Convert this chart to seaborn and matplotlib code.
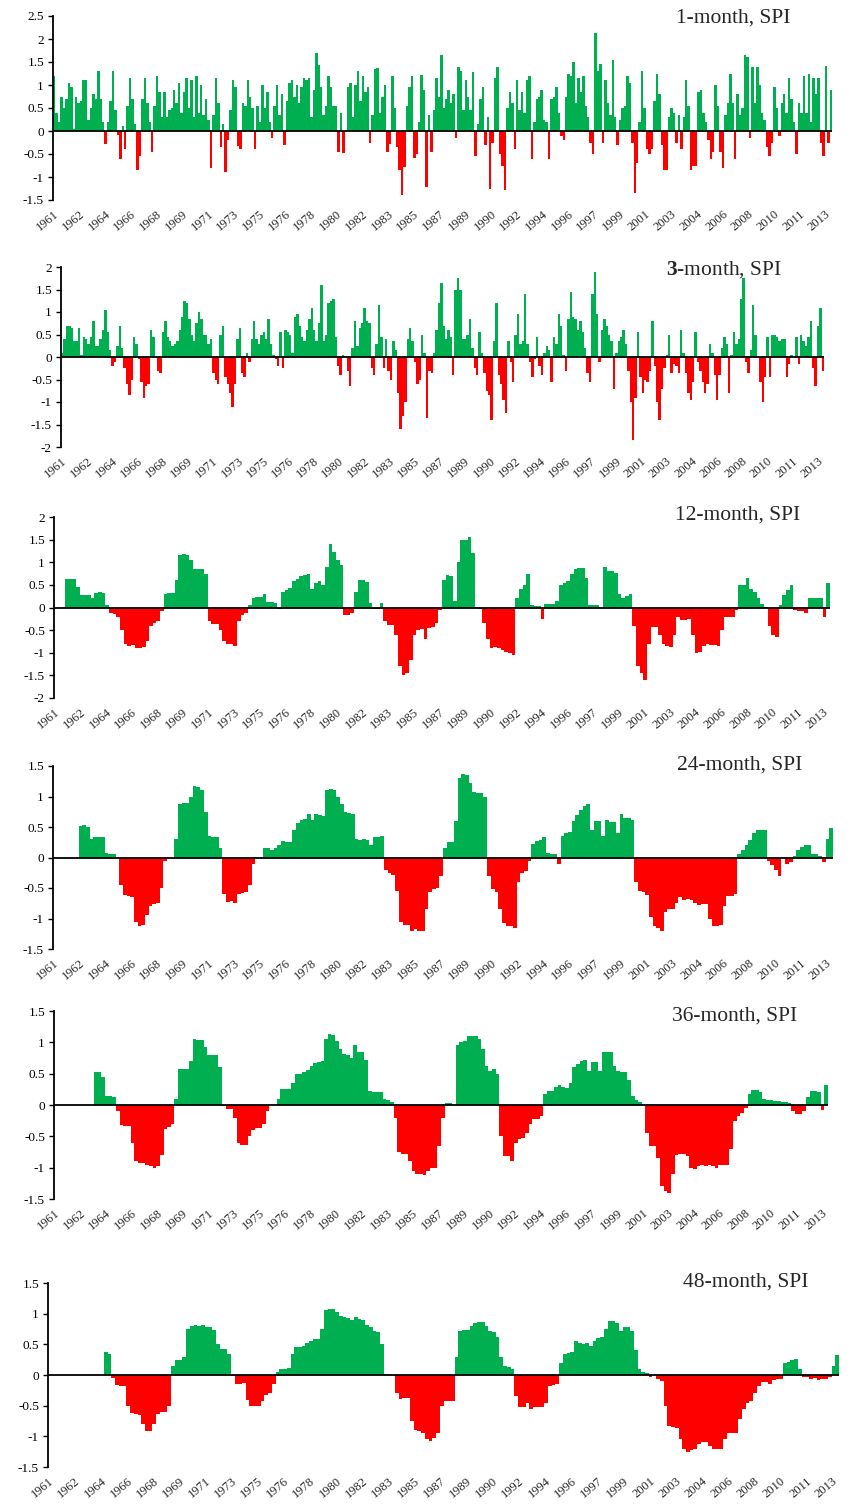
import numpy as np
import pandas as pd
import matplotlib
matplotlib.use('Agg')
import matplotlib.pyplot as plt
from matplotlib.ticker import FuncFormatter
import seaborn as sns

nan = np.nan

# Excel printed a year label every 21st month, starting Jan 1961
YEAR_LABELS = ['1961', '1962', '1964', '1966', '1968', '1969', '1971', '1973',
               '1975', '1976', '1978', '1980', '1982', '1983', '1985', '1987',
               '1989', '1990', '1992', '1994', '1996', '1997', '1999', '2001',
               '2003', '2004', '2006', '2008', '2010', '2011', '2013']

SPI_1 = [
    1.2, 0.4, 0.2, 0.75, 0.5, 0.7,
    1.05, 0.95, 0.05, 0.75, 0.6, 0.65,
    1.1, 1.1, 0.25, 0.5, 0.8, 0.7,
    1.3, 0.7, 0.2, -0.28, 0.2, 0.65,
    1.3, 0.45, -0.08, -0.6, 0.1, -0.4,
    0.55, 1.15, 0.7, 0.15, -0.85, -0.55,
    0.7, 1.15, 0.6, 0.2, -0.45, 0.55,
    1.2, 0.85, 0.3, 0.85, 0.3, 0.45,
    0.5, 0.9, 0.6, 1.05, 0.4, 0.85,
    1.15, 0.5, 1.1, 0.3, 1.2, 0.4,
    1.0, 0.35, 0.7, 0.25, -0.8, 0.35,
    1.15, 0.6, -0.35, 0.15, -0.9, -0.2,
    0.45, 1.1, 0.95, -0.33, -0.4, 0.6,
    0.55, 1.1, 0.75, 0.5, -0.4, 0.55,
    0.2, 1.0, 0.5, 0.85, 0.2, -0.15,
    0.55, 1.0, 0.35, 0.8, -0.3, 0.65,
    1.05, 1.1, 0.75, 1.0, 0.6, 0.95,
    1.15, 1.1, 1.15, 0.3, 0.9, 1.7,
    1.43, 0.95, 0.35, 0.55, 1.2, 0.95,
    0.55, 0.55, -0.45, 0.4, -0.48, 0.0,
    0.95, 1.05, 0.3, 1.0, 1.3, 0.65,
    1.2, 0.85, 0.95, -0.25, 0.35, 1.35,
    1.38, 0.4, 0.75, 1.0, -0.45, -0.28,
    1.2, 0.5, -0.35, -0.85, -1.4, -0.78,
    0.55, 0.95, 1.2, -0.58, -0.5, 0.2,
    1.22, 0.9, -1.22, 0.35, -0.45, 0.45,
    1.15, 0.75, 1.65, 0.5, 0.7, 0.9,
    0.6, 0.8, -0.15, 1.4, 1.3, 0.45,
    1.1, 0.75, 0.45, 1.28, -0.55, 0.15,
    0.7, 0.95, -0.3, 0.3, -1.25, -0.25,
    1.15, 1.4, -0.5, -0.75, -1.28, 0.5,
    0.85, 0.6, -0.4, 1.1, 0.45, 0.85,
    0.4, 1.1, 1.2, -0.6, 0.2, 0.7,
    0.75, 0.9, 0.25, 0.2, -0.6, 0.7,
    0.75, 0.95, 0.4, -0.1, -0.2, 0.75,
    1.25, 1.2, 1.5, 0.6, 1.15, 0.85,
    1.2, 0.55, 0.3, -0.25, -0.5, 2.14,
    1.3, 1.45, -0.25, 1.1, 0.6, 0.35,
    1.55, 0.3, -0.3, 0.25, 0.5, 0.55,
    1.2, 1.05, -0.25, -1.35, -0.7, 0.2,
    1.3, 0.5, -0.4, -0.5, -0.4, 0.65,
    1.25, 0.8, -0.3, -0.85, -0.85, 0.3,
    0.5, 0.4, -0.25, 0.35, -0.4, 0.3,
    1.1, 0.55, -0.85, -0.75, -0.75, 0.85,
    0.9, 0.4, 0.2, -0.2, -0.6, -0.45,
    1.0, 0.55, -0.45, -0.8, 0.35, 0.6,
    1.25, 0.6, -0.6, 0.8, 0.35, 0.5,
    1.65, 1.6, -0.15, 1.4, 0.6, 1.4,
    1.0, 0.4, 0.25, -0.35, -0.55, -0.25,
    0.95, 0.5, -0.1, 0.6, 0.8, 0.4,
    1.15, 0.7, 0.2, -0.5, 0.6, 0.4,
    1.2, 0.4, 1.25, 0.2, 1.15, 0.8,
    1.15, -0.25, -0.55, 1.42, -0.25, 0.9,
]

# 3-month SPI, two-month steps
SPI_3 = [
    0.1, 0.4, 0.7, 0.7, 0.65, 0.35,
    0.35, 0.65, 0.05, 0.45, 0.4, 0.3,
    0.45, 0.8, 0.25, 0.25, 0.4, 0.6,
    1.05, 0.55, 0.15, -0.2, -0.1, 0.25,
    0.7, 0.2, -0.25, -0.6, -0.85, -0.5,
    0.45, 0.3, -0.05, -0.55, -0.9, -0.65,
    -0.6, 0.6, 0.45, 0.0, -0.3, -0.35,
    0.55, 0.8, 0.45, 0.35, 0.25, 0.3,
    0.35, 0.6, 0.9, 1.25, 1.2, 0.85,
    0.5, 0.35, 0.75, 1.0, 0.85, 0.5,
    0.5, 0.3, 0.4, -0.35, -0.5, -0.6,
    0.5, 0.7, -0.45, -0.6, -0.8, -1.1,
    -0.6, 0.4, 0.65, -0.35, -0.45, 0.1,
    -0.1, 0.4, 0.8, 0.4, 0.3, 0.5,
    0.55, 0.4, 0.85, 0.3, 0.05, -0.05,
    -0.2, 0.55, -0.25, 0.6, 0.55, 0.5,
    0.1, 0.9, 0.95, 0.7, 0.45, 0.35,
    0.6, 0.85, 1.1, 0.6, 0.35, 0.75,
    1.6, 0.35, 0.5, 1.2, 1.25, 1.3,
    0.45, -0.2, -0.4, 0.05, 0.02, -0.3,
    -0.65, 0.2, 0.8, 0.25, 0.65, 0.75,
    1.1, 0.8, 0.75, -0.25, -0.4, 0.3,
    1.15, 0.45, -0.25, 0.4, -0.3, -0.5,
    0.35, 0.15, -0.8, -1.6, -1.3, -1.0,
    0.4, 0.65, 0.35, -0.1, -0.6, -0.5,
    0.5, 0.1, -1.35, -0.3, -0.35, 0.1,
    0.6, 1.2, 1.65, 0.7, 0.4, 0.6,
    0.45, -0.4, 1.5, 1.75, 1.5, 0.4,
    0.4, 0.5, 0.85, 0.2, -0.25, -0.4,
    0.55, 0.1, -0.35, -0.75, -0.85, -1.4,
    0.35, 1.2, -0.4, -0.6, -0.95, -1.25,
    0.35, -0.1, -0.55, 0.5, 0.95, 0.3,
    0.35, 1.4, 0.3, -0.1, -0.45, -0.05,
    0.45, -0.2, -0.4, 0.1, 0.25, 0.15,
    -0.55, 0.45, 0.3, 0.95, 0.7, 0.05,
    -0.3, 0.85, 1.45, 0.9, 0.85, 0.6,
    0.8, 0.55, 0.2, -0.35, -0.55, 1.4,
    1.9, 0.95, -0.1, 0.6, 0.85, 0.7,
    0.5, 0.35, -0.7, 0.1, 0.35, 0.45,
    0.6, 0.3, -0.3, -1.0, -1.85, -0.9,
    0.55, -0.45, -0.8, -0.5, -0.55, -0.3,
    0.8, -0.2, -1.0, -1.4, -0.7, -0.25,
    0.05, 0.5, -0.35, -0.15, -0.2, -0.35,
    0.6, 0.1, -0.35, -0.8, -0.95, -0.55,
    0.55, -0.1, -0.3, -0.55, -0.8, -0.6,
    0.3, 0.1, -0.4, -0.95, -0.4, 0.2,
    0.45, 0.3, -0.8, 0.05, 0.55, 0.3,
    0.4, 1.3, 1.75, -0.1, -0.35, 0.15,
    1.15, 0.5, 0.0, -0.55, -1.0, -0.45,
    0.45, -0.45, 0.5, 0.5, 0.45, 0.35,
    0.4, 0.4, -0.45, -0.15, 0.05, 0.0,
    0.45, -0.15, 0.5, 0.35, 0.25, 0.45,
    0.8, -0.25, -0.65, 0.7, 1.1, -0.3,
]

# 12-month SPI, quarterly steps
SPI_12 = [
    nan, nan, nan, 0.62,
    0.62, 0.63, 0.45, 0.28,
    0.28, 0.27, 0.2, 0.33,
    0.35, 0.32, 0.05, -0.13,
    -0.15, -0.2, -0.5, -0.8,
    -0.85, -0.82, -0.9, -0.9,
    -0.87, -0.75, -0.4, -0.35,
    -0.3, -0.08, 0.3, 0.32,
    0.33, 0.6, 1.17, 1.18,
    1.17, 1.05, 0.86, 0.85,
    0.85, 0.75, -0.3, -0.36,
    -0.36, -0.5, -0.75, -0.8,
    -0.8, -0.85, -0.3, -0.17,
    -0.13, 0.05, 0.2, 0.23,
    0.24, 0.3, 0.13, 0.12,
    0.1, -0.04, 0.35, 0.38,
    0.42, 0.58, 0.62, 0.7,
    0.72, 0.75, 0.4, 0.55,
    0.58, 0.5, 0.9, 1.4,
    1.22, 1.05, 0.95, -0.17,
    -0.17, -0.12, 0.35, 0.6,
    0.6, 0.57, 0.1, -0.04,
    -0.03, 0.1, -0.3, -0.38,
    -0.38, -0.6, -1.3, -1.5,
    -1.45, -1.15, -0.6, -0.5,
    -0.48, -0.7, -0.45, -0.42,
    -0.35, -0.05, 0.6, 0.72,
    0.7, 0.15, 1.0, 1.5,
    1.5, 1.55, 1.2, 0.02,
    -0.04, -0.35, -0.7, -0.9,
    -0.88, -0.9, -0.95, -0.98,
    -1.0, -1.05, 0.2, 0.4,
    0.5, 0.75, 0.05, 0.04,
    0.03, -0.25, 0.07, 0.08,
    0.08, 0.15, 0.5, 0.55,
    0.58, 0.75, 0.85, 0.88,
    0.88, 0.65, 0.05, 0.05,
    0.05, -0.02, 0.9, 0.8,
    0.8, 0.77, 0.3, 0.22,
    0.25, 0.3, -0.4, -1.3,
    -1.45, -1.6, -0.8, -0.42,
    -0.42, -0.6, -0.8, -0.85,
    -0.88, -0.6, -0.2, -0.28,
    -0.27, -0.25, -0.6, -1.0,
    -0.98, -0.85, -0.8, -0.82,
    -0.82, -0.85, -0.5, -0.2,
    -0.2, -0.22, -0.05, 0.5,
    0.5, 0.65, 0.4, 0.35,
    0.2, 0.08, 0.02, -0.4,
    -0.6, -0.65, 0.05, 0.28,
    0.38, 0.5, -0.05, -0.07,
    -0.08, -0.12, 0.2, 0.22,
    0.22, 0.2, -0.2, 0.55,
]

# 24-month SPI, quarterly steps
SPI_24 = [
    nan, nan, nan, nan,
    nan, nan, nan, 0.52,
    0.53, 0.5, 0.3, 0.33,
    0.33, 0.33, 0.08, 0.06,
    0.05, 0.0, -0.45, -0.62,
    -0.63, -0.65, -1.05, -1.12,
    -1.1, -0.95, -0.8, -0.77,
    -0.75, -0.5, -0.05, 0.0,
    0.0, 0.3, 0.87, 0.9,
    0.9, 1.0, 1.18, 1.15,
    1.1, 0.75, 0.35, 0.33,
    0.33, 0.15, -0.6, -0.73,
    -0.72, -0.75, -0.6, -0.58,
    -0.57, -0.45, -0.1, 0.0,
    0.0, 0.15, 0.16, 0.13,
    0.15, 0.2, 0.27, 0.25,
    0.25, 0.45, 0.57, 0.62,
    0.63, 0.72, 0.62, 0.72,
    0.7, 0.68, 1.1, 1.12,
    1.1, 1.0, 0.88, 0.75,
    0.73, 0.72, 0.3, 0.28,
    0.3, 0.28, 0.2, 0.33,
    0.33, 0.36, -0.2, -0.25,
    -0.28, -0.55, -1.05, -1.1,
    -1.1, -1.2, -1.18, -1.2,
    -1.2, -0.85, -0.57, -0.52,
    -0.5, -0.3, 0.15, 0.26,
    0.26, 0.6, 1.3, 1.37,
    1.35, 1.22, 1.07, 1.05,
    1.05, 1.0, -0.3, -0.52,
    -0.57, -0.85, -1.08, -1.12,
    -1.12, -1.15, -0.4, -0.25,
    -0.22, -0.05, 0.22, 0.27,
    0.28, 0.33, 0.08, 0.05,
    0.05, -0.1, 0.35, 0.4,
    0.42, 0.6, 0.7, 0.78,
    0.85, 0.88, 0.45, 0.6,
    0.6, 0.35, 0.62, 0.58,
    0.58, 0.4, 0.72, 0.65,
    0.65, 0.62, -0.4, -0.55,
    -0.56, -0.62, -0.98, -1.12,
    -1.15, -1.2, -0.9, -0.85,
    -0.85, -0.75, -0.65, -0.7,
    -0.68, -0.7, -0.75, -0.78,
    -0.76, -0.77, -1.0, -1.12,
    -1.12, -1.1, -0.8, -0.63,
    -0.63, -0.6, 0.05, 0.12,
    0.2, 0.28, 0.4, 0.45,
    0.45, 0.45, -0.05, -0.12,
    -0.2, -0.3, 0.0, -0.1,
    -0.07, 0.03, 0.12, 0.17,
    0.2, 0.2, 0.05, 0.05,
    0.03, -0.08, 0.3, 0.48,
]

# 36-month SPI, quarterly steps
SPI_36 = [
    nan, nan, nan, nan,
    nan, nan, nan, nan,
    nan, nan, nan, 0.52,
    0.52, 0.45, 0.15, 0.14,
    0.13, -0.1, -0.32, -0.33,
    -0.34, -0.6, -0.9, -0.92,
    -0.92, -0.96, -0.98, -1.0,
    -0.98, -0.8, -0.38, -0.35,
    -0.3, 0.1, 0.58, 0.58,
    0.58, 0.7, 1.05, 1.04,
    1.03, 0.92, 0.8, 0.8,
    0.8, 0.6, -0.02, -0.06,
    -0.06, -0.2, -0.6, -0.64,
    -0.64, -0.5, -0.4, -0.37,
    -0.37, -0.3, -0.1, 0.0,
    0.0, 0.1, 0.25, 0.25,
    0.25, 0.35, 0.5, 0.5,
    0.52, 0.56, 0.62, 0.67,
    0.68, 0.7, 1.05, 1.14,
    1.12, 1.02, 0.9, 0.82,
    0.8, 0.75, 0.95, 0.85,
    0.84, 0.72, 0.22, 0.2,
    0.2, 0.2, 0.1, 0.08,
    0.05, -0.2, -0.75, -0.78,
    -0.78, -0.9, -1.05, -1.1,
    -1.1, -1.12, -1.05, -1.0,
    -1.0, -0.65, -0.2, 0.03,
    0.03, 0.0, 0.95, 1.0,
    1.02, 1.1, 1.1, 1.1,
    1.05, 0.9, 0.62, 0.55,
    0.57, 0.5, -0.5, -0.82,
    -0.82, -0.9, -0.6, -0.55,
    -0.52, -0.45, -0.3, -0.22,
    -0.22, -0.17, 0.18, 0.22,
    0.22, 0.28, 0.32, 0.28,
    0.27, 0.35, 0.6, 0.66,
    0.7, 0.72, 0.55, 0.68,
    0.68, 0.55, 0.85, 0.85,
    0.84, 0.62, 0.55, 0.53,
    0.53, 0.4, 0.15, 0.08,
    0.05, 0.02, -0.45, -0.65,
    -0.66, -0.85, -1.3, -1.38,
    -1.4, -1.1, -0.8, -0.78,
    -0.78, -0.82, -1.0, -1.02,
    -0.98, -0.96, -0.98, -0.96,
    -0.97, -1.0, -0.95, -0.95,
    -0.95, -0.7, -0.25, -0.18,
    -0.12, -0.05, 0.18, 0.24,
    0.24, 0.2, 0.1, 0.08,
    0.08, 0.07, 0.07, 0.05,
    0.05, 0.03, -0.1, -0.15,
    -0.15, -0.1, 0.13, 0.22,
    0.23, 0.2, -0.08, 0.32,
]

# 48-month SPI, quarterly steps
SPI_48 = [
    nan, nan, nan, nan,
    nan, nan, nan, nan,
    nan, nan, nan, nan,
    nan, nan, nan, 0.38,
    0.35, -0.05, -0.17, -0.18,
    -0.18, -0.5, -0.62, -0.63,
    -0.65, -0.8, -0.92, -0.92,
    -0.8, -0.64, -0.61, -0.6,
    -0.5, 0.15, 0.24, 0.24,
    0.3, 0.75, 0.8, 0.82,
    0.8, 0.82, 0.78, 0.78,
    0.74, 0.5, 0.43, 0.42,
    0.35, -0.02, -0.15, -0.15,
    -0.13, -0.4, -0.5, -0.5,
    -0.5, -0.42, -0.33, -0.3,
    -0.15, 0.05, 0.1, 0.1,
    0.12, 0.35, 0.45, 0.46,
    0.47, 0.52, 0.55, 0.58,
    0.58, 0.75, 1.06, 1.08,
    1.07, 1.03, 0.96, 0.94,
    0.93, 0.9, 0.95, 0.92,
    0.9, 0.82, 0.78, 0.72,
    0.7, 0.5, 0.02, 0.02,
    0.0, -0.3, -0.39, -0.38,
    -0.38, -0.75, -0.9, -0.92,
    -0.95, -1.05, -1.07, -1.03,
    -0.95, -0.5, -0.43, -0.43,
    -0.43, 0.3, 0.72, 0.73,
    0.73, 0.8, 0.85, 0.86,
    0.87, 0.8, 0.72, 0.7,
    0.62, 0.3, 0.14, 0.13,
    0.1, -0.35, -0.52, -0.52,
    -0.45, -0.55, -0.52, -0.52,
    -0.52, -0.45, -0.18, -0.17,
    -0.15, 0.2, 0.35, 0.36,
    0.38, 0.55, 0.52, 0.5,
    0.52, 0.48, 0.56, 0.6,
    0.62, 0.75, 0.88, 0.88,
    0.85, 0.72, 0.78, 0.78,
    0.72, 0.4, 0.1, 0.05,
    0.04, -0.03, 0.0, -0.06,
    -0.1, -0.5, -0.83, -0.85,
    -0.86, -1.05, -1.2, -1.25,
    -1.22, -1.2, -1.12, -1.1,
    -1.1, -1.15, -1.2, -1.2,
    -1.2, -1.05, -0.95, -0.95,
    -0.95, -0.72, -0.55, -0.45,
    -0.42, -0.3, -0.18, -0.12,
    -0.12, -0.14, -0.08, -0.07,
    -0.06, 0.2, 0.22, 0.25,
    0.26, 0.1, -0.03, -0.04,
    -0.06, -0.05, -0.08, -0.07,
    -0.07, -0.04, 0.15, 0.33,
]

GREEN = '#00B050'
RED = '#FF0000'
N_MONTHS = 636
W, H = 855, 1510

# title, values, months per value, y range, axes box (left, right, top, bottom px), title anchor (right, y px)
PANELS = [
    ('1-month, SPI', SPI_1, 2, (-1.5, 2.5), (53, 832, 16, 200), (790, 18)),
    (r'$\mathbf{3}$-month, SPI', SPI_3, 2, (-2, 2), (61, 824, 267, 447), (782, 270)),
    ('12-month, SPI', SPI_12, 3, (-2, 2), (54, 830, 517, 698), (800, 515)),
    ('24-month, SPI', SPI_24, 3, (-1.5, 1.5), (53, 833, 766, 949), (802, 765)),
    ('36-month, SPI', SPI_36, 3, (-1.5, 1.5), (54, 828, 1011, 1199), (797, 1016)),
    ('48-month, SPI', SPI_48, 3, (-1.5, 1.5), (48, 839, 1283, 1467), (808, 1282)),
]

sns.set_style('ticks')
plt.rcParams['font.family'] = ['Liberation Serif', 'DejaVu Serif']
plt.rcParams['mathtext.fontset'] = 'custom'
plt.rcParams['mathtext.rm'] = 'Liberation Serif'
plt.rcParams['mathtext.bf'] = 'Liberation Serif:bold'
plt.rcParams['axes.unicode_minus'] = False

fig = plt.figure(figsize=(W / 100, H / 100), dpi=100)

for title, values, step, ylim, (l, r, t, b), (tx, ty) in PANELS:
    ax = fig.add_axes([l / W, 1 - b / H, (r - l) / W, (b - t) / H])

    vals = np.asarray(values, dtype=float)
    month = np.arange(len(vals)) * step + (step - 1) / 2
    df = pd.DataFrame({'month': month, 'spi': vals}).dropna()
    df['sign'] = np.where(df['spi'] >= 0, 'wet', 'dry')

    sns.barplot(data=df, x='month', y='spi', hue='sign',
                palette={'wet': GREEN, 'dry': RED}, native_scale=True,
                dodge=False, width=1, saturation=1, errorbar=None,
                linewidth=0, legend=False, ax=ax)

    ax.axhline(0, color='black', lw=1.3, zorder=5)
    ax.set_xlim(-0.5, N_MONTHS - 0.5)
    ax.set_ylim(ylim)
    ax.set_yticks(np.round(np.arange(ylim[0], ylim[1] + 0.01, 0.5), 2))
    ax.yaxis.set_major_formatter(FuncFormatter(lambda v, p: '{0:g}'.format(v + 0.0)))
    ax.set_xticks(np.arange(0, N_MONTHS, 21))
    ax.set_xticklabels(YEAR_LABELS)
    plt.setp(ax.get_xticklabels(), rotation=40, ha='right', va='top',
             rotation_mode='anchor')
    ax.tick_params(axis='x', length=0, labelsize=9, pad=6)
    ax.tick_params(axis='y', direction='out', length=3.5, width=1,
                   labelsize=9.5, pad=3, colors='black')
    ax.set_xlabel('')
    ax.set_ylabel('')
    for side in ['top', 'right', 'bottom']:
        ax.spines[side].set_visible(False)
    ax.spines['left'].set_linewidth(1.3)
    ax.spines['left'].set_color('black')

    fig.text(tx / W, 1 - ty / H, title, ha='right', va='center', fontsize=15.5)

fig.savefig('out.png', dpi=100)
